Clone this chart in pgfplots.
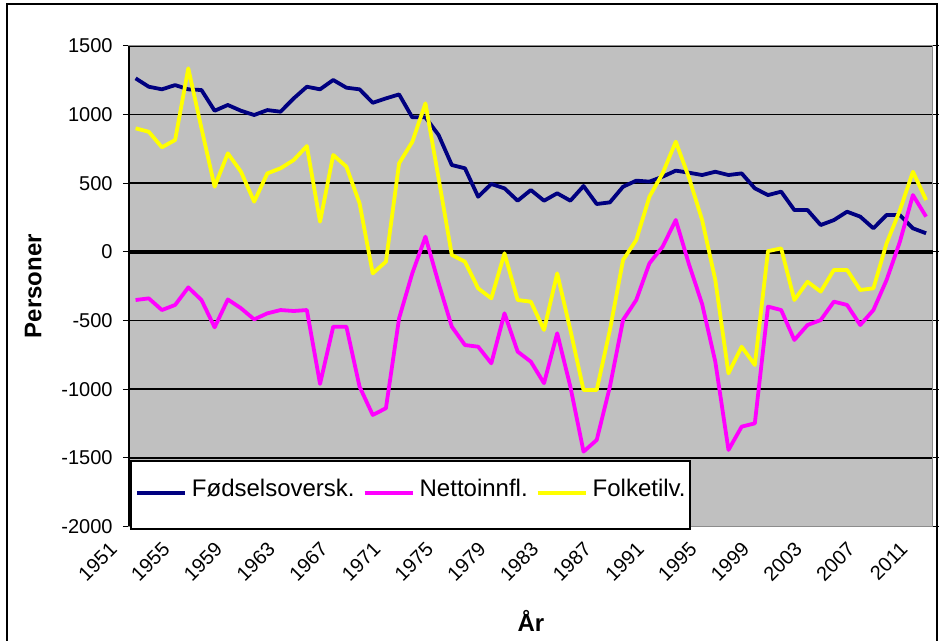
\documentclass[border=0pt]{standalone}
\usepackage{fontspec}
\setmainfont{Liberation Sans}
\usepackage{pgfplots}
\pgfplotsset{compat=1.18}
\definecolor{plotgray}{HTML}{C0C0C0}
\definecolor{navyline}{HTML}{000080}
\definecolor{magline}{HTML}{FF00FF}
\definecolor{yelline}{HTML}{FFFF00}
\begin{document}
\begin{tikzpicture}
\begin{axis}[
  at={(0,0)}, anchor=south west,
  scale only axis, width=401.85pt, height=240.35pt,
  xmin=1950.5, xmax=2011.5, ymin=-2000, ymax=1500,
  xtick={1951,1955,...,2011},
  ytick={-2000,-1500,...,1500},
  /pgf/number format/assume math mode=true,
  /pgf/number format/1000 sep={},
  tick label style={font=\fontsize{10}{12}\selectfont},
  xticklabel style={xshift=-11pt, yshift=-6.5pt, rotate=45, anchor=east, inner sep=0pt},
  yticklabel style={xshift=-5pt, anchor=east, inner sep=0pt},
  x tick style={draw=none},
  y tick style={black, line width=0.6pt},
  tick align=outside, major tick length=3pt,
  ymajorgrids, grid style={black, line width=0.8pt},
  extra y ticks={0}, extra y tick labels={},
  extra y tick style={grid style={black, line width=2pt}, tick style={draw=none}},
  axis background/.style={fill=plotgray},
  axis line style={draw=black!45, line width=0.6pt},
  every axis y label/.style={at={(axis description cs:0,0.5)}, xshift=-43.5pt, rotate=90, anchor=south, inner sep=0pt, font=\bfseries\fontsize{12}{14}\selectfont},
  every axis x label/.style={at={(axis description cs:0.5,0)}, yshift=-52.6pt, anchor=base, inner sep=0pt, font=\bfseries\fontsize{12}{14}\selectfont},
  ylabel={Personer}, xlabel={År},
  legend columns=-1,
  legend style={at={(0.0012,-0.007)}, anchor=south west, draw=black, line width=1pt, fill=white,
    inner xsep=2pt, inner ysep=9pt, font=\fontsize{12}{14}\selectfont,
    nodes={inner sep=0pt, text height=9pt, text depth=7pt},
    /tikz/every odd column/.append style={column sep=2.5pt},
    /tikz/every even column/.append style={column sep=4pt}},
  legend image code/.code={\draw[#1, line width=2pt] (0pt,1pt) -- (24pt,1pt);},
  every axis plot/.append style={line width=1.9pt, line join=round, mark=none},
]
\addplot[navyline] coordinates {
(1951,1263) (1952,1202) (1953,1183) (1954,1214) (1955,1183) (1956,1178) (1957,1027) (1958,1069) (1959,1027) (1960,996)
(1961,1032) (1962,1020) (1963,1117) (1964,1202) (1965,1183) (1966,1251) (1967,1195) (1968,1183) (1969,1085) (1970,1117)
(1971,1146) (1972,979) (1973,979) (1974,850) (1975,632) (1976,608) (1977,401) (1978,494) (1979,462) (1980,372)
(1981,450) (1982,372) (1983,426) (1984,372) (1985,479) (1986,348) (1987,360) (1988,474) (1989,518) (1990,511)
(1991,547) (1992,591) (1993,576) (1994,559) (1995,583) (1996,559) (1997,571) (1998,462) (1999,413) (2000,438)
(2001,304) (2002,304) (2003,195) (2004,231) (2005,292) (2006,256) (2007,171) (2008,268) (2009,268) (2010,171) (2011,135)
};
\addlegendentry{Fødselsoversk.}
\addplot[magline] coordinates {
(1951,-351) (1952,-339) (1953,-424) (1954,-387) (1955,-259) (1956,-351) (1957,-550) (1958,-347) (1959,-411) (1960,-492)
(1961,-448) (1962,-424) (1963,-431) (1964,-424) (1965,-962) (1966,-545) (1967,-545) (1968,-982) (1969,-1188) (1970,-1139)
(1971,-484) (1972,-157) (1973,110) (1974,-229) (1975,-545) (1976,-679) (1977,-691) (1978,-812) (1979,-448) (1980,-727)
(1981,-800) (1982,-957) (1983,-593) (1984,-982) (1985,-1455) (1986,-1370) (1987,-982) (1988,-496) (1989,-351) (1990,-84)
(1991,37) (1992,232) (1993,-90) (1994,-380) (1995,-800) (1996,-1443) (1997,-1273) (1998,-1249) (1999,-399) (2000,-424)
(2001,-642) (2002,-533) (2003,-497) (2004,-363) (2005,-387) (2006,-533) (2007,-424) (2008,-205) (2009,70) (2010,413) (2011,256)
};
\addlegendentry{Nettoinnfl.}
\addplot[yelline] coordinates {
(1951,899) (1952,874) (1953,761) (1954,814) (1955,1336) (1956,900) (1957,474) (1958,717) (1959,583) (1960,365)
(1961,571) (1962,608) (1963,668) (1964,770) (1965,219) (1966,705) (1967,620) (1968,353) (1969,-157) (1970,-72)
(1971,644) (1972,800) (1973,1081) (1974,535) (1975,-23) (1976,-72) (1977,-266) (1978,-339) (1979,-11) (1980,-351)
(1981,-363) (1982,-569) (1983,-157) (1984,-569) (1985,-1006) (1986,-1006) (1987,-569) (1988,-60) (1989,86) (1990,401)
(1991,571) (1992,802) (1993,540) (1994,232) (1995,-205) (1996,-885) (1997,-691) (1998,-824) (1999,5) (2000,25)
(2001,-351) (2002,-218) (2003,-290) (2004,-132) (2005,-132) (2006,-278) (2007,-266) (2008,62) (2009,300) (2010,583) (2011,377)
};
\addlegendentry{Folketilv.}
\end{axis}
\draw[black, line width=0.8pt] (0,0) -- (0,240.35pt);
\draw[black, line width=0.6pt] (-61pt,-70pt) rectangle (404pt,261.25pt);
\pgfresetboundingbox
\useasboundingbox (-64.5pt,-57.25pt) rectangle (405pt,263.25pt);
\end{tikzpicture}
\end{document}
